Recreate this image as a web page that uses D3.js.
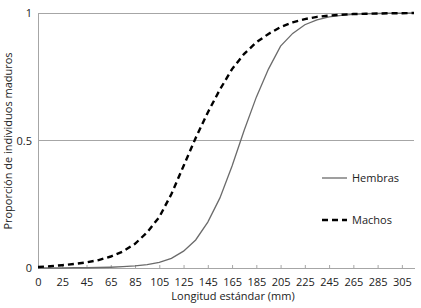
<!DOCTYPE html>
<html><head><meta charset="utf-8">
<script src="https://cdn.jsdelivr.net/npm/d3@7"></script>
<style>
html,body{margin:0;padding:0;background:#fff;}
svg{display:block;font-family:"Open Sans",sans-serif;}
</style></head>
<body><svg id="c" width="421" height="308"></svg>
<script>
// Categories (longitud estándar, mm)
const categories = [0,15,25,35,45,55,65,75,85,95,105,115,125,135,145,155,165,175,185,195,205,215,225,235,245,255,265,275,285,295,305,315];
const tickLabels = [0,25,45,65,85,105,125,145,165,185,205,225,245,265,285,305];
const hembras = [0,0,0,0.001,0.001,0.002,0.003,0.005,0.008,0.013,0.022,0.038,0.066,0.11,0.18,0.275,0.40,0.54,0.67,0.78,0.87,0.92,0.954,0.973,0.985,0.991,0.995,0.997,0.998,0.999,0.999,1];
const machos = [0.004,0.007,0.011,0.016,0.022,0.031,0.045,0.065,0.095,0.14,0.2,0.29,0.40,0.51,0.61,0.70,0.78,0.84,0.885,0.918,0.945,0.963,0.976,0.985,0.99,0.993,0.996,0.997,0.998,0.999,0.999,1];
const yTicks = [0,0.5,1];
const yTickLabels = ["0","0.5","1"];
const seriesNames = ["Hembras","Machos"];

const svg = d3.select("#c");
const x = d3.scalePoint().domain(categories).range([38,414]);
const y = d3.scaleLinear().domain([0,1]).range([268,13]);
const grey = "#a6a6a6";

// gridlines
svg.append("g").selectAll("line").data(yTicks.filter(d=>d>0)).join("line")
  .attr("x1",38).attr("x2",414).attr("y1",d=>y(d)).attr("y2",d=>y(d))
  .attr("stroke",grey).attr("stroke-width",1).attr("shape-rendering","crispEdges");

// y axis
const ya = svg.append("g").attr("transform","translate(38,0)")
  .call(d3.axisLeft(y).tickValues(yTicks).tickSize(0).tickPadding(6).tickFormat((d,i)=>yTickLabels[i]));
ya.select(".domain").attr("stroke",grey).attr("shape-rendering","crispEdges");
ya.selectAll("text").attr("font-size","11px").attr("fill","#222").attr("font-family","Open Sans");

// x axis
const xa = svg.append("g").attr("transform","translate(0,268)")
  .call(d3.axisBottom(x).tickValues(tickLabels.map(v=>v)).tickSize(0).tickPadding(10));
xa.select(".domain").attr("stroke",grey).attr("shape-rendering","crispEdges");
xa.selectAll("text").attr("font-size","11px").attr("fill","#222").attr("font-family","Open Sans");
xa.selectAll(".tick").append("line").attr("y1",0).attr("y2",-3).attr("stroke",grey);

// titles
svg.append("text").attr("x",233).attr("y",300).attr("text-anchor","middle")
  .attr("font-size","11px").attr("fill","#222").text("Longitud estándar (mm)");
svg.append("text").attr("transform","translate(12,141) rotate(-90)").attr("text-anchor","middle")
  .attr("font-size","11px").attr("fill","#222").text("Proporción de individuos maduros");

// lines
const line = d3.line().x((d,i)=>x(categories[i])).y(d=>y(d));
svg.append("path").datum(hembras).attr("d",line).attr("fill","none")
  .attr("stroke","#6b6b6b").attr("stroke-width",1.3);
svg.append("path").datum(machos).attr("d",line).attr("fill","none")
  .attr("stroke","#000").attr("stroke-width",2.4).attr("stroke-dasharray","6,4");

// legend
const lg = svg.append("g");
lg.append("line").attr("x1",322).attr("x2",347).attr("y1",178).attr("y2",178)
  .attr("stroke","#6b6b6b").attr("stroke-width",1.3);
lg.append("text").attr("x",352).attr("y",182).attr("font-size","11px").attr("fill","#222").text(seriesNames[0]);
lg.append("line").attr("x1",322).attr("x2",347).attr("y1",220).attr("y2",220)
  .attr("stroke","#000").attr("stroke-width",2.4).attr("stroke-dasharray","6,4");
lg.append("text").attr("x",352).attr("y",224).attr("font-size","11px").attr("fill","#222").text(seriesNames[1]);
</script></body></html>
